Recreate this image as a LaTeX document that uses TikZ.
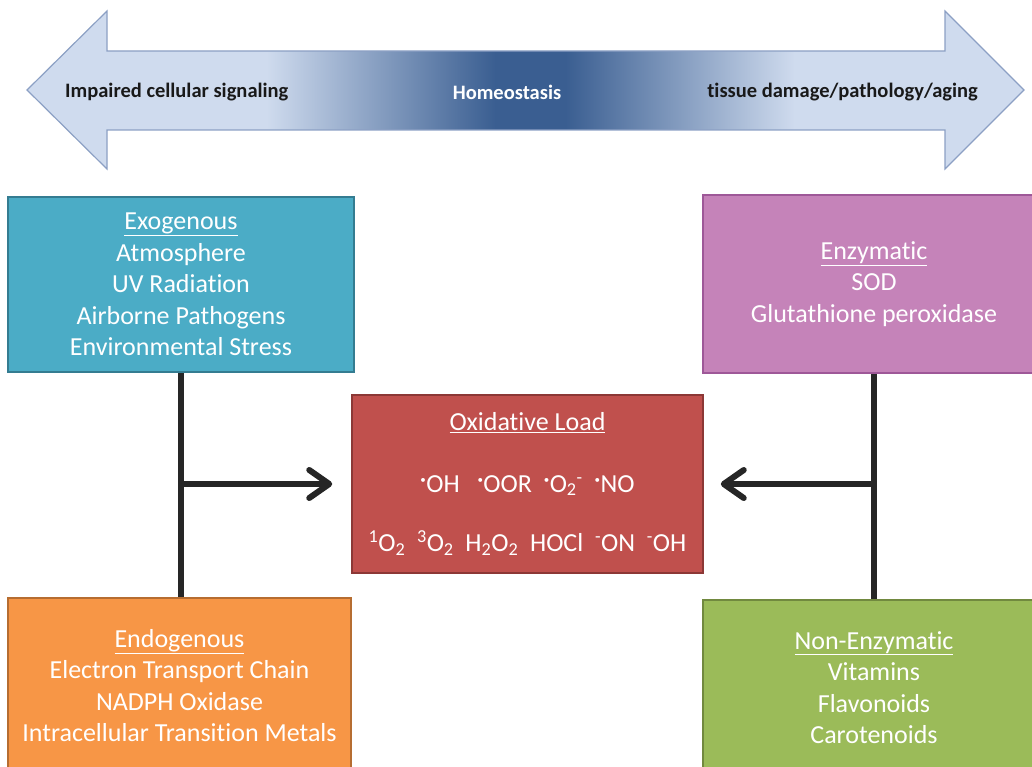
\documentclass[tikz,border=0pt]{standalone}
\usepackage{fontspec}
\setmainfont{Carlito}[Ligatures=CommonOff]
\usetikzlibrary{positioning, arrows.meta, calc}
\definecolor{barlt}{RGB}{207,219,238}
\definecolor{bardk}{RGB}{58,94,145}
\definecolor{barline}{RGB}{140,160,196}
\definecolor{exofill}{RGB}{75,172,198}
\definecolor{exoline}{RGB}{52,124,145}
\definecolor{enzfill}{RGB}{197,131,185}
\definecolor{enzline}{RGB}{158,88,152}
\definecolor{oxfill}{RGB}{192,80,77}
\definecolor{oxline}{RGB}{140,56,54}
\definecolor{endofill}{RGB}{247,150,70}
\definecolor{endoline}{RGB}{182,109,49}
\definecolor{nonfill}{RGB}{155,187,89}
\definecolor{nonline}{RGB}{113,137,63}
\definecolor{linkcol}{RGB}{38,38,38}
\pgfdeclarehorizontalshading{homeo}{100bp}{color(0bp)=(barlt); color(37bp)=(barlt);
  color(48.5bp)=(bardk); color(52bp)=(bardk); color(63.5bp)=(barlt); color(100bp)=(barlt)}
\newcommand{\radot}{\textsuperscript{\fontsize{11}{11}\selectfont•}}
\tikzset{
  box/.style  = {draw, line width=1.5pt, align=center, text=white, inner sep=0pt,
                 font=\fontsize{26}{31.5}\selectfont},
  hdr/.style  = {inner sep=0pt, font=\fontsize{20.5}{24}\selectfont\bfseries},
  lnk/.style  = {line width=6pt, draw=linkcol},
  ar/.style   = {lnk, -{Straight Barb[length=20pt, width=28pt, round]}},
}
\begin{document}
\begin{tikzpicture}[x=1pt, y=-1pt]
  \useasboundingbox (0,0) rectangle (1032,767);
  % balance arrow
  \shade[shading=homeo, draw=barline, line width=1.2pt]
    (27,90) -- (107,11) -- (107,51) -- (945,51) -- (945,11) -- (1024,90)
    -- (945,169) -- (945,130) -- (107,130) -- (107,169) -- cycle;
  \node[hdr, anchor=west, text=black!90] (imp) at (65,92) {Impaired cellular signaling};
  \node[hdr, text=white] (homeo) at (507,92) {Homeostasis};
  \node[hdr, anchor=east, text=black!90] (dmg) at (978,92) {tissue damage/pathology/aging};
  % sources
  \node[box, fill=exofill, draw=exoline, minimum width=346pt, minimum height=175pt]
    (exo) at (181,284.5)
    {\underline{Exogenous}\\Atmosphere\\UV Radiation\\Airborne Pathogens\\Environmental Stress};
  \node[box, fill=endofill, draw=endoline, minimum width=343pt, minimum height=175pt]
    (endo) at (179.5,685.5)
    {\underline{Endogenous}\\Electron Transport Chain\\NADPH Oxidase\\Intracellular Transition Metals};
  % defences
  \node[box, fill=enzfill, draw=enzline, minimum width=342pt, minimum height=178pt]
    (enz) at (874,284)
    {\underline{Enzymatic}\\SOD\\Glutathione peroxidase};
  \node[box, fill=nonfill, draw=nonline, minimum width=342pt, minimum height=175pt]
    (nonenz) at (874,687.5)
    {\underline{Non-Enzymatic}\\Vitamins\\Flavonoids\\Carotenoids};
  % load
  \node[box, fill=oxfill, draw=oxline, minimum width=351pt, minimum height=178pt]
    (ox) at (527.5,484)
    {\underline{Oxidative Load}\\[30pt]
     \radot OH\ \ \ \radot OOR\ \ \radot O\textsubscript{2}\textsuperscript{-}\ \ \radot NO\\[28pt]
     \textsuperscript{1}O\textsubscript{2}\ \ \textsuperscript{3}O\textsubscript{2}\ \ H\textsubscript{2}O\textsubscript{2}\ \ HOCl\ \ \textsuperscript{-}ON\ \ \textsuperscript{-}OH};
  % links
  \draw[lnk] (exo.south) -- (exo.south |- endo.north);
  \draw[ar, shorten >=19pt] (exo.south |- ox.west) -- (ox.west);
  \draw[lnk] (enz.south) -- (enz.south |- nonenz.north);
  \draw[ar, shorten >=17pt] (enz.south |- ox.east) -- (ox.east);
\end{tikzpicture}
\end{document}
